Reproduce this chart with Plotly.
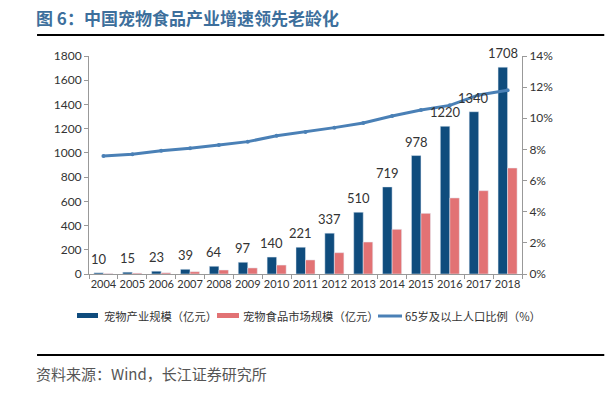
import plotly.graph_objects as go

years = [str(y) for y in range(2004, 2019)]
industry = [10, 15, 23, 39, 64, 97, 140, 221, 337, 510, 719, 978, 1220, 1340, 1708]
food = [4, 7, 10, 19, 33, 50, 74, 116, 176, 264, 369, 501, 628, 688, 875]
aged_pct = [7.58, 7.69, 7.92, 8.07, 8.28, 8.50, 8.88, 9.12, 9.40, 9.70, 10.15, 10.53, 10.83, 11.50, 11.80]

series_names = ["宠物产业规模（亿元）", "宠物食品市场规模（亿元）", "65岁及以上人口比例（%）"]
left_ticks = list(range(0, 1801, 200))
right_ticks = list(range(0, 15, 2))
right_labels = [f"{v}%" for v in right_ticks]

DARK = "#0f4c7d"
PINK = "#e27274"
LINE = "#4a80b6"
FONT = "Lato, Noto Sans CJK SC, sans-serif"
CJK = "Noto Sans CJK SC, sans-serif"

fig = go.Figure()
fig.add_trace(go.Bar(
    x=years, y=industry, name=series_names[0], marker_color=DARK, showlegend=False,
))
fig.add_trace(go.Bar(
    x=years, y=food, name=series_names[1], marker_color=PINK, showlegend=False,
))
fig.add_trace(go.Scatter(
    x=years, y=aged_pct, name=series_names[2], yaxis="y2",
    mode="lines+markers", line=dict(color=LINE, width=3),
    marker=dict(size=4, color=LINE), showlegend=False,
))

# value labels above the dark bars, anchored at data coordinates
# (category axes take the category's serial index for annotations)
value_annots = [
    dict(text=str(v), x=i, y=v, xref="x", yref="y", showarrow=False,
         xanchor="center", yanchor="middle", xshift=-4.8, yshift=14,
         font=dict(size=13, color="#333333", family=FONT))
    for i, v in enumerate(industry)
]

# custom legend (wide rectangular swatches like the original)
legend_shapes = [
    dict(type="rect", xref="paper", yref="paper", x0=-0.0277, x1=0.0208, y0=-0.2018, y1=-0.179,
         fillcolor=DARK, line=dict(width=0)),
    dict(type="rect", xref="paper", yref="paper", x0=0.2956, x1=0.3464, y0=-0.2018, y1=-0.179,
         fillcolor=PINK, line=dict(width=0)),
    dict(type="line", xref="paper", yref="paper", x0=0.6674, x1=0.7229, y0=-0.1927, y1=-0.1927,
         line=dict(color=LINE, width=3)),
]
legend_texts = [
    dict(text=series_names[0], x=0.030),
    dict(text=series_names[1], x=0.351),
    dict(text=series_names[2], x=0.726),
]
legend_annots = [
    dict(text=t["text"], xref="paper", yref="paper", x=t["x"], y=-0.1927,
         xanchor="left", yanchor="middle", showarrow=False,
         font=dict(size=11.3, color="#333333", family=CJK))
    for t in legend_texts
]

fig.update_layout(
    width=615, height=397,
    paper_bgcolor="white", plot_bgcolor="white",
    margin=dict(l=89, r=93, t=56, b=123, autoexpand=False),
    barmode="group", bargap=0.34, bargroupgap=0,
    font=dict(family=FONT, size=12, color="#333333"),
    showlegend=False,
    xaxis=dict(
        type="category", showline=True, linecolor="#999999", linewidth=1,
        ticks="outside", ticklen=4, tickcolor="#999999", tickson="boundaries",
        tickangle=0, tickfont=dict(size=11, color="#333333"), showgrid=False,
        range=[-0.5, len(years) - 0.5],
    ),
    yaxis=dict(
        range=[0, 1800], tickvals=left_ticks, showgrid=False,
        showline=True, linecolor="#999999", linewidth=1,
        ticks="outside", ticklen=4, tickcolor="#999999",
        tickfont=dict(size=12, color="#333333"), zeroline=False,
    ),
    yaxis2=dict(
        range=[0, 14], tickvals=right_ticks, ticktext=right_labels,
        overlaying="y", side="right", showgrid=False,
        showline=True, linecolor="#999999", linewidth=1,
        ticks="outside", ticklen=4, tickcolor="#999999",
        tickfont=dict(size=12, color="#333333"), zeroline=False,
    ),
    annotations=[
        dict(text="<b>图 6：中国宠物食品产业增速领先老龄化</b>", xref="paper", yref="paper",
             x=-0.128, y=1.177, xanchor="left", yanchor="middle", showarrow=False,
             font=dict(size=17, color="#3d6f9c", family=CJK)),
        dict(text="资料来源：Wind，长江证券研究所", xref="paper", yref="paper",
             x=-0.128, y=-0.455, xanchor="left", yanchor="middle", showarrow=False,
             font=dict(size=15, color="#555555", family=CJK)),
    ] + value_annots + legend_annots,
    shapes=[
        dict(type="line", xref="paper", yref="paper", x0=-0.12, x1=1.19, y0=1.096, y1=1.096,
             line=dict(color="black", width=2)),
        dict(type="line", xref="paper", yref="paper", x0=-0.12, x1=1.19, y0=-0.372, y1=-0.372,
             line=dict(color="black", width=2)),
    ] + legend_shapes,
)

fig.write_html("out.html", config={"displayModeBar": False},
               post_script="document.body.style.margin='0';")
